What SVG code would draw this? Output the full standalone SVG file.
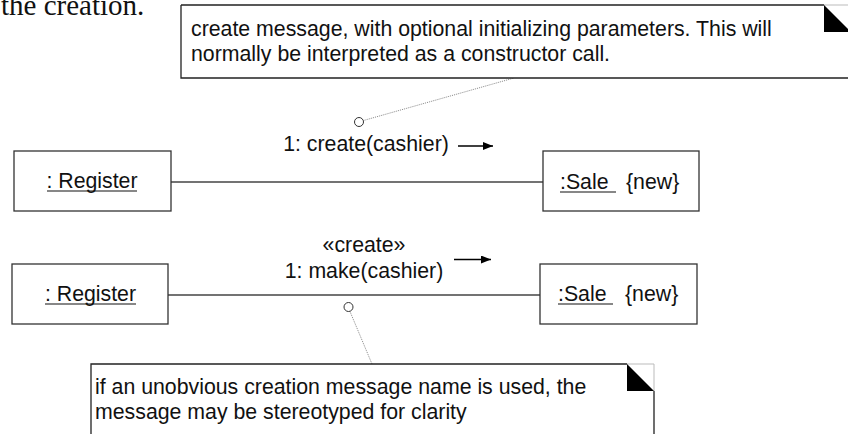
<svg xmlns="http://www.w3.org/2000/svg" width="848" height="434" viewBox="0 0 848 434">
  <defs>
    <marker id="arrowhead" viewBox="0 0 10 8" refX="10" refY="4" markerWidth="10" markerHeight="8" markerUnits="userSpaceOnUse" orient="auto">
      <path d="M0,0 L10,4 L0,8 Z" fill="#000"/>
    </marker>
    <style>
      .box { fill: #fff; stroke: #333; stroke-width: 1.3; }
      .edge { fill: none; stroke: #444; stroke-width: 1.3; }
      .note { fill: #fff; stroke: #222; stroke-width: 1.3; }
      .fold { fill: #000; }
      .foldline { fill: none; stroke: #bbb; stroke-width: 1; }
      .anchor { fill: none; stroke: #888; stroke-width: 1; stroke-dasharray: 1 1; }
      .dot { fill: #fff; stroke: #333; stroke-width: 1; }
      .lbl { font-family: "Liberation Sans", Arial, sans-serif; font-size: 21.3px; fill: #111; }
      .mid { text-anchor: middle; }
      .ul { stroke: #111; stroke-width: 1.2; }
      .msg { fill: none; stroke: #000; stroke-width: 1.3; }
      .body { font-family: "Liberation Serif", "Times New Roman", serif; font-size: 29px; fill: #111; }
    </style>
  </defs>

  <rect width="848" height="434" fill="#fff"/>

  <!-- tail of the surrounding paragraph -->
  <text class="body" x="1" y="15">the creation.</text>

  <!-- links between instances -->
  <g id="connectors">
    <line class="edge" x1="171" y1="182" x2="543" y2="182"/>
    <line class="edge" x1="168" y1="295" x2="540" y2="295"/>
    <!-- message direction arrows -->
    <line class="msg" x1="458" y1="146" x2="493" y2="146" marker-end="url(#arrowhead)"/>
    <line class="msg" x1="454" y1="259.5" x2="491" y2="259.5" marker-end="url(#arrowhead)"/>
    <!-- note anchors -->
    <line class="anchor" x1="363.5" y1="120.5" x2="514" y2="78"/>
    <line class="anchor" x1="350" y1="311.5" x2="372" y2="364"/>
  </g>

  <!-- note: constructor-call explanation -->
  <g id="note-create">
    <path class="note" d="M181,5 H824 M181,5 V78 H860"/>
    <path class="foldline" d="M824,5 H851 V32"/>
    <path class="fold" d="M824,5 L851,32 H824 Z"/>
    <text class="lbl" x="191" y="36">create message, with optional initializing parameters. This will</text>
    <text class="lbl" x="191" y="61">normally be interpreted as a constructor call.</text>
  </g>

  <!-- first create message -->
  <g id="msg-create">
    <circle class="dot" cx="359" cy="122" r="4.5"/>
    <text class="lbl mid" x="366" y="151">1: create(cashier)</text>
  </g>

  <g id="register-1">
    <rect class="box" x="14" y="151" width="157" height="60"/>
    <text class="lbl mid" x="92" y="188">: Register</text>
    <line class="ul" x1="47" y1="191" x2="137" y2="191"/>
  </g>

  <g id="sale-1">
    <rect class="box" x="543" y="151" width="156" height="60"/>
    <text class="lbl" x="560" y="189">:Sale</text>
    <line class="ul" x1="560" y1="192" x2="616" y2="192"/>
    <text class="lbl" x="626" y="189">{new}</text>
  </g>

  <!-- second, stereotyped create message -->
  <g id="msg-make">
    <text class="lbl mid" x="364" y="252">«create»</text>
    <text class="lbl mid" x="364" y="278">1: make(cashier)</text>
    <circle class="dot" cx="348.5" cy="307" r="4.5"/>
  </g>

  <g id="register-2">
    <rect class="box" x="12" y="264" width="156" height="60"/>
    <text class="lbl mid" x="90.5" y="301">: Register</text>
    <line class="ul" x1="45" y1="304" x2="136" y2="304"/>
  </g>

  <g id="sale-2">
    <rect class="box" x="540" y="264" width="157" height="60"/>
    <text class="lbl" x="558" y="301">:Sale</text>
    <line class="ul" x1="558" y1="304" x2="613" y2="304"/>
    <text class="lbl" x="625" y="301">{new}</text>
  </g>

  <!-- note: stereotype explanation -->
  <g id="note-stereotype">
    <path class="note" d="M91,445 V364 H627 M654,391 V445"/>
    <path class="foldline" d="M627,364 H654 V391"/>
    <path class="fold" d="M627,364 L654,391 H627 Z"/>
    <text class="lbl" x="95" y="394">if an unobvious creation message name is used, the</text>
    <text class="lbl" x="95" y="419">message may be stereotyped for clarity</text>
  </g>
</svg>
